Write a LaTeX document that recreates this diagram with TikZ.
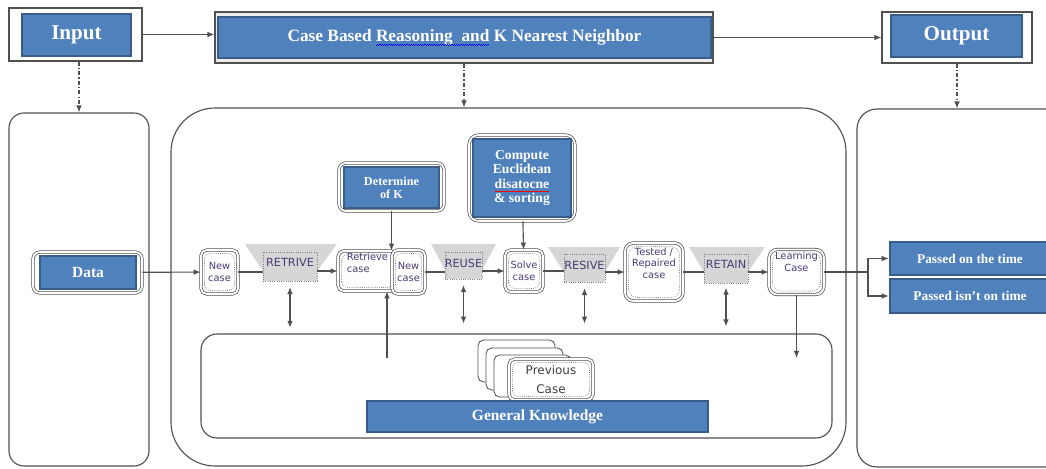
\documentclass[tikz,border=0pt]{standalone}
\usepackage{fontspec}
\setmainfont{Liberation Serif}
\newfontfamily\dejavu{DejaVu Sans}
\usetikzlibrary{arrows.meta}
\definecolor{kblue}{HTML}{4F81BD}
\definecolor{kdark}{HTML}{385D8A}
\definecolor{kline}{HTML}{505050}
\definecolor{kgray}{HTML}{D6D6D6}
\definecolor{klabel}{HTML}{4B3B73}
\newlength\wavelen
\newcommand{\spellwave}[2]{\settowidth{\wavelen}{#2}\rlap{#2}\textcolor{#1}{\lower2.6pt\hbox to\wavelen{\leaders\hbox{\rule{0.8pt}{0.35pt}\raisebox{0.55pt}{\rule{0.8pt}{0.35pt}}}\hfil}}}

\begin{document}
\begin{tikzpicture}
        [x=0.025cm, y=-0.025cm, >={Latex[length=5pt,width=4pt]},
         sz/.style 2 args={minimum width=#1*0.025cm, minimum height=#2*0.025cm, inner sep=0pt},
         frame/.style={draw=kline, line width=0.8pt, fill=white},
         bluebox/.style={fill=kblue, draw=kdark, line width=1.8pt, text=white, align=center},
         dframe/.style={draw=kline, double=white, double distance=1.3pt, line width=0.5pt, rounded corners=5pt, fill=white},
         panel/.style={draw=kline, line width=0.8pt, rounded corners=#1},
         casebox/.style={dframe, rounded corners=4pt, text=klabel, align=center, font={\dejavu\fontsize{7}{8.5}\selectfont},
           path picture={\draw[gray, densely dotted] ([xshift=2.5pt,yshift=2.5pt]path picture bounding box.south west) rectangle ([xshift=-2.5pt,yshift=-2.5pt]path picture bounding box.north east);}},
         stage/.style={fill=kgray, draw=gray, densely dotted, line width=0.6pt},
         stagetext/.style={text=klabel, font={\dejavu\fontsize{8}{9}\selectfont}, anchor=north, yshift=-1.5pt},
         card/.style={draw=kline, fill=white, line width=0.6pt, rounded corners=4pt},
         conn/.style={draw=kline, line width=0.8pt},
         ddconn/.style={conn, dash pattern=on 3pt off 1.5pt on 0.8pt off 1.5pt}]

        \useasboundingbox (0,0) rectangle (1046,468);
        \clip (0,0) rectangle (1046,468);

        % top row
        \node[frame, sz={133}{53}] (inbox) at (75.5,34.5) {};
        \node[bluebox, sz={109}{42}, font={\bfseries\fontsize{15}{18}\selectfont}] (input) at (76.5,35) {Input};
        \node[frame, fill=gray!15, sz={498}{51}] (cbrbox) at (464,37.5) {};
        \node[bluebox, sz={493}{41}, font={\bfseries\fontsize{12.3}{14}\selectfont}] (cbr) at (464.5,37.5) {Case Based \spellwave{blue}{Reasoning\ \ and} K Nearest Neighbor};
        \node[frame, sz={150}{51}] (outbox) at (957,37.5) {};
        \node[bluebox, sz={131}{42}, font={\bfseries\fontsize{15}{18}\selectfont}] (output) at (956.5,36) {Output};

        % panels
        \node[panel=0.375cm, sz={140}{353}] (datapanel) at (79,289.5) {};
        \node[panel=1.1cm, sz={675}{358}] (mainpanel) at (508.5,287) {};
        \node[panel=0.5cm, sz={223}{358}] (resultpanel) at (968.5,288) {};
        \node[panel=0.4cm, sz={631}{104}] (kbpanel) at (516.5,386) {};

        % data
        \node[dframe, sz={109}{41}] (dataframe) at (87.5,272.5) {};
        \node[bluebox, sz={96}{33}, font={\bfseries\fontsize{11}{13}\selectfont}] (data) at (88,272.5) {Data};

        % knn steps
        \node[dframe, sz={105}{48}] (detframe) at (391.5,187) {};
        \node[bluebox, sz={95}{41}, font={\bfseries\fontsize{8.7}{9.2}\selectfont}] (detk) at (391.5,187.5) {Determine\\of K};
        \node[dframe, rounded corners=7pt, sz={106}{86}] (compframe) at (522,178) {};
        \node[bluebox, sz={98}{78}, font={\bfseries\fontsize{9.7}{10.2}\selectfont}] (comp) at (522,178) {Compute\\Euclidean\\\spellwave{red}{disatocne}\\ \& sorting};

        % cbr cycle
        \fill[kgray] (245,244) -- (337,244) -- (317,271) -- (263,271) -- cycle;
        \fill[kgray] (431,244) -- (496,244) -- (482,270) -- (445,270) -- cycle;
        \fill[kgray] (548,247) -- (620,247) -- (605,272) -- (564,272) -- cycle;
        \fill[kgray] (689,247) -- (765,247) -- (748,272) -- (704,272) -- cycle;

        \node[casebox, sz={37}{44}] (new1) at (219.5,272) {New\\case};
        \node[stage, sz={54}{29}, label={[stagetext]north:RETRIVE}] (retrive) at (290,266.5) {};
        \node[casebox, sz={59}{40}, align=left] (retcase) at (367.5,271) {Retrieve\\case\\[3pt]};
        \node[casebox, sz={33}{44}] (new2) at (408.5,272) {New\\case};
        \node[stage, sz={37}{27}, label={[stagetext]north:REUSE}] (reuse) at (463.5,265.5) {};
        \node[casebox, sz={38}{42}] (solve) at (524,271) {Solve\\case};
        \node[stage, sz={41}{28}, label={[stagetext]north:RESIVE}] (resive) at (584.5,268) {};
        \node[casebox, rounded corners=6pt, sz={58}{58}] (tested) at (654,272) {Tested /\\Repaired\\case\\[4pt]};
        \node[stage, sz={44}{29}, label={[stagetext]north:RETAIN}] (retain) at (726,268.5) {};
        \node[casebox, rounded corners=6pt, sz={55}{45}] (learn) at (796.5,272) {Learning\\Case\\[6pt]};

        % results
        \node[bluebox, sz={160}{33}, font={\bfseries\fontsize{9.5}{11}\selectfont}] (pass1) at (970,258.5) {Passed on the time};
        \node[bluebox, sz={160}{34}, font={\bfseries\fontsize{9.5}{11}\selectfont}] (pass2) at (970,296) {Passed isn't on time};

        % knowledge base
        \node[card, sz={77}{42}] (card1) at (516.5,361) {};
        \node[card, sz={77}{42}] (card2) at (524.5,369) {};
        \node[card, sz={77}{42}] (card3) at (532.5,376) {};
        \node[casebox, sz={84}{41}, text=black!75, font={\dejavu\fontsize{8.5}{13}\selectfont}] (prev) at (551,379.5) {Previous\\Case};
        \node[bluebox, sz={341}{31}, font={\bfseries\fontsize{11}{13}\selectfont}] (genknow) at (537.5,416.5) {General Knowledge};

        \coordinate (kbase) at (387,358);
        \coordinate (split) at (868,272);

        % connectors
        \draw[conn, ->] (inbox) -- (inbox -| cbrbox.west);
        \draw[conn, ->] (cbrbox) -- (outbox);
        \draw[ddconn, ->] (datapanel.north |- inbox.south) -- (datapanel.north);
        \draw[ddconn, ->] (cbrbox.south) -- (cbrbox.south |- mainpanel.north);
        \draw[ddconn, ->] (outbox.south) -- (outbox.south |- resultpanel.north);

        \draw[conn, ->] (dataframe) -- (new1);
        \draw[conn] (new1) -- (new1 -| retrive.west);
        \draw[conn, ->] (retrive.east |- retcase) -- (retcase);
        \draw[conn] (new2) -- (new2 -| reuse.west);
        \draw[conn, ->] (reuse.east |- solve) -- (solve);
        \draw[conn] (solve) -- (solve -| resive.west);
        \draw[conn, ->] (resive.east |- tested) -- (tested);
        \draw[conn] (tested) -- (tested -| retain.west);
        \draw[conn, ->] (retain.east |- learn) -- (learn);

        \draw[conn, ->] (detframe) -- (detframe |- retcase.north);
        \draw[conn, ->] (compframe) -- (solve);
        \draw[conn, ->] (kbase) -- (kbase |- retcase.south);

        \draw[conn, <->, shorten <=4pt, shorten >=4pt] (retrive.south) -- (retrive.south |- kbpanel.north);
        \draw[conn, <->, shorten <=4pt, shorten >=7pt] (reuse.south) -- (reuse.south |- kbpanel.north);
        \draw[conn, <->, shorten <=4pt, shorten >=7pt] (resive.south) -- (resive.south |- kbpanel.north);
        \draw[conn, <->, shorten <=3pt, shorten >=5pt] (retain.south) -- (retain.south |- kbpanel.north);
        \draw[conn, ->] (learn) -- (learn.south |- kbase);

        \draw[conn] (learn) -- (split);
        \draw[conn, ->] (split) |- (pass1);
        \draw[conn, ->] (split) |- (pass2);

      \end{tikzpicture}
\end{document}
